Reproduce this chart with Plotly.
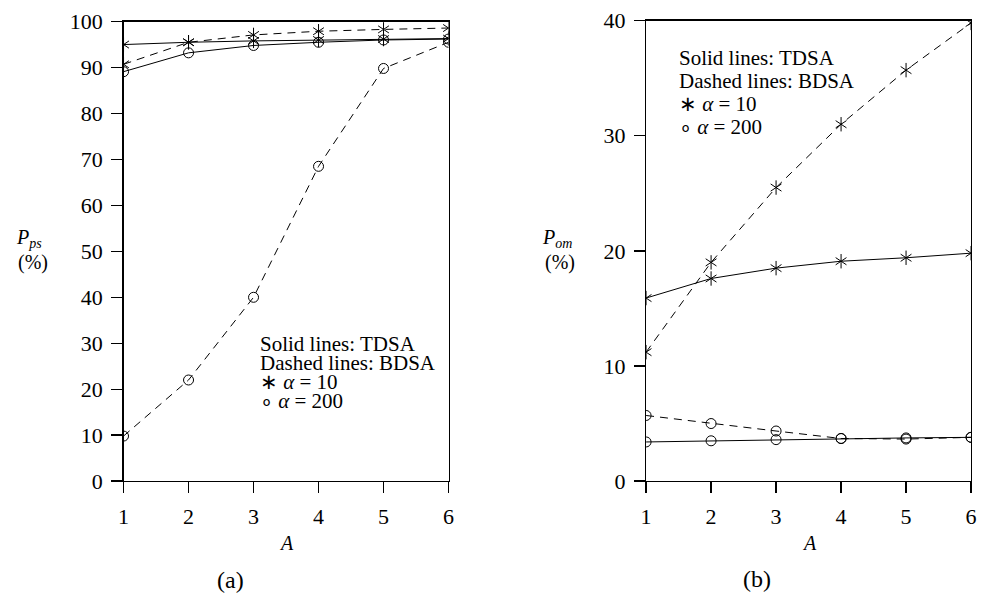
import plotly.graph_objects as go

# ---------------- data ----------------
A = [1, 2, 3, 4, 5, 6]

# panel (a): P_ps (%)
pps_tdsa_a10 = [95.0, 95.5, 95.8, 96.0, 96.2, 96.3]
pps_tdsa_a200 = [89.1, 93.2, 94.8, 95.5, 96.0, 96.2]
pps_bdsa_a10 = [90.7, 95.5, 97.1, 97.9, 98.3, 98.6]
pps_bdsa_a200 = [9.8, 22.0, 40.0, 68.5, 89.8, 95.5]

# panel (b): P_om (%)
pom_tdsa_a10 = [15.9, 17.6, 18.5, 19.1, 19.4, 19.8]
pom_tdsa_a200 = [3.4, 3.5, 3.6, 3.7, 3.75, 3.8]
pom_bdsa_a10 = [11.2, 19.0, 25.5, 31.0, 35.7, 39.8]
pom_bdsa_a200 = [5.7, 5.0, 4.35, 3.7, 3.65, 3.8]

ticks_a = [0, 10, 20, 30, 40, 50, 60, 70, 80, 90, 100]
ticks_b = [0, 10, 20, 30, 40]
legend_lines = ["Solid lines: TDSA", "Dashed lines: BDSA",
                "∗ <i>α</i> = 10", "∘ <i>α</i> = 200"]

FONT = "Liberation Serif"
W, H = 982, 614

fig = go.Figure()


def add_series(xa, ya, y, dash, kind):
    line = dict(color="black", width=1, dash=dash)
    if kind == "star":
        fig.add_trace(go.Scatter(x=A, y=y, mode="lines", line=line,
                                 xaxis=xa, yaxis=ya, showlegend=False,
                                 hoverinfo="skip"))
        for sym in ("y-up-open", "y-down-open"):
            fig.add_trace(go.Scatter(x=A, y=y, mode="markers",
                                     marker=dict(symbol=sym, size=9, color="black",
                                                 line=dict(color="black", width=1)),
                                     xaxis=xa, yaxis=ya, showlegend=False))
    else:
        fig.add_trace(go.Scatter(x=A, y=y, mode="lines+markers", line=line,
                                 marker=dict(symbol="circle-open", size=10,
                                             color="black",
                                             line=dict(color="black", width=1)),
                                 xaxis=xa, yaxis=ya, showlegend=False))


DASH = "8px,6px"
add_series("x", "y", pps_tdsa_a10, "solid", "star")
add_series("x", "y", pps_tdsa_a200, "solid", "circle")
add_series("x", "y", pps_bdsa_a10, DASH, "star")
add_series("x", "y", pps_bdsa_a200, DASH, "circle")

add_series("x2", "y2", pom_tdsa_a10, "solid", "star")
add_series("x2", "y2", pom_tdsa_a200, "solid", "circle")
add_series("x2", "y2", pom_bdsa_a10, DASH, "star")
add_series("x2", "y2", pom_bdsa_a200, DASH, "circle")

axis_common = dict(showgrid=False, zeroline=False, showline=True, mirror=True,
                   linecolor="black", linewidth=1.3, ticks="outside", ticklen=11,
                   tickwidth=1.3, tickcolor="black",
                   tickfont=dict(family=FONT, size=22, color="black"),
                   ticklabelstandoff=4, ticklabeloverflow="allow")

fig.update_layout(
    width=W, height=H,
    margin=dict(l=0, r=0, t=0, b=0),
    paper_bgcolor="white", plot_bgcolor="white",
    xaxis=dict(domain=[119 / W, 448 / W], range=[1, 6], tickvals=A, **axis_common),
    yaxis=dict(domain=[1 - 489 / H, 1 - 10 / H], range=[0, 100], tickvals=ticks_a,
               **axis_common),
    xaxis2=dict(domain=[648 / W, 977 / W], range=[1, 6], tickvals=A, anchor="y2",
                **axis_common),
    yaxis2=dict(domain=[1 - 489 / H, 1 - 9 / H], range=[0, 40], tickvals=ticks_b,
                anchor="x2", **axis_common),
)

ann = []
def txt(x, y, text, size=20, xanchor="center"):
    ann.append(dict(x=x / W, y=1 - y / H, xref="paper", yref="paper", text=text,
                    showarrow=False, xanchor=xanchor, yanchor="middle",
                    borderpad=0,
                    font=dict(family=FONT, size=size, color="black")))

# axis titles
txt(23, 236, "<i>P</i><sub><i>ps</i></sub>")
txt(27, 261, "(%)")
txt(558, 236, "<i>P</i><sub><i>om</i></sub>")
txt(561, 261, "(%)")
txt(284, 554, "<i>A</i>")
txt(813, 554, "<i>A</i>")
txt(227, 592, "(a)", size=24)
txt(760, 591, "(b)", size=24)

# in-plot legends
for i, s in enumerate(legend_lines):
    txt(256, 346 + i * 20, s, size=21, xanchor="left")
    txt(680, 48 + i * 24, s, size=21, xanchor="left")

fig.update_layout(annotations=ann)
fig.write_html("out.html",
               config={"displayModeBar": False, "staticPlot": True},
               post_script="document.body.style.margin='0';"
                           "document.body.style.overflow='hidden';")
